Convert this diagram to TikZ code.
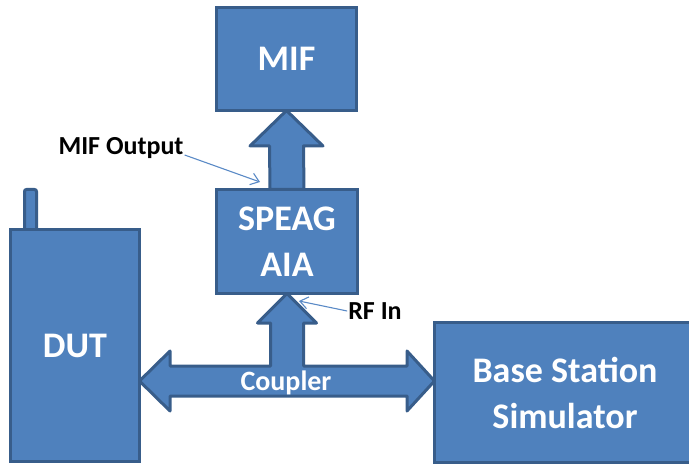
\documentclass[tikz,border=0pt]{standalone}
\usepackage{fontspec}
\setmainfont{Carlito}
\usetikzlibrary{calc,arrows.meta}
\definecolor{boxfill}{HTML}{4F81BD}
\definecolor{boxline}{HTML}{385D8A}
\definecolor{callout}{HTML}{5A8AC6}
\pgfdeclarelayer{bg}
\pgfsetlayers{bg,main}
\begin{document}
\begin{tikzpicture}[x=1pt,y=-1pt,
  blockbox/.style={draw=boxline,fill=boxfill,line width=3pt,outer sep=0pt,inner sep=0pt,
    rectangle,text=white,font=\fontsize{36}{46}\selectfont\bfseries,align=center},
  blockarrow/.style={draw=boxline,fill=boxfill,line width=3pt,line join=round},
  lbl/.style={text=black,font=\fontsize{26}{30}\selectfont\bfseries,inner sep=1pt},
  callarrow/.style={draw=callout,line width=1.1pt,-{Straight Barb[length=8pt,width=12pt]}}]
\clip (0,0) rectangle (689,468);
% antenna
\draw[blockarrow,rounded corners=2pt] (24.5,189.5) rectangle (36.5,236);
% boxes
\node[blockbox,minimum width=140pt,minimum height=103pt] (mif) at (286.5,59) {MIF};
\node[blockbox,minimum width=141pt,minimum height=104pt] (aia) at (287,241.5) {SPEAG\\AIA};
\node[blockbox,minimum width=129pt,minimum height=232pt] (dut) at (75,345.5) {DUT};
\node[blockbox,minimum width=261pt,minimum height=140pt] (bss) at (565,392.5) {Base Station\\Simulator};
\coordinate (cj) at (287,381);
\begin{pgfonlayer}{bg}
% upper block arrow AIA -> MIF
\draw[blockarrow] (mif.south) -- ($(mif.south)+(36.5,35.5)$) -- ($(mif.south)+(17,35.5)$)
  -- ($(aia.north)+(17,0)$) -- ($(aia.north)+(-17,0)$) -- ($(mif.south)+(-17,35.5)$)
  -- ($(mif.south)+(-36.5,35.5)$) -- cycle;
% coupler: double arrow with branch up to AIA
\begin{scope}[shift={(cj)}]
\draw[blockarrow] (dut.east |- cj) -- (-117,-30) -- (-117,-15) -- (-16.5,-15) -- (-16.5,-58)
  -- (-29.5,-58) -- (aia.south) -- (29.5,-58) -- (16.5,-58) -- (16.5,-15) -- (120,-15)
  -- (120,-30) -- (bss.west |- cj) -- (120,30) -- (120,15) -- (-117,15) -- (-117,30) -- cycle;
\end{scope}
\end{pgfonlayer}
\node[text=white,font=\fontsize{28}{32}\selectfont\bfseries,inner sep=0pt,anchor=base] (coupler) at (286,390) {Coupler};
% callouts
\node[lbl] (mifout) at (121,148) {MIF Output};
\coordinate (mifoutTip) at (260,182);
\draw[callarrow] ([yshift=-7pt]mifout.east) -- (mifoutTip);
\node[lbl] (rfin) at (375,311) {RF In};
\coordinate (rfinTip) at (299,301);
\draw[callarrow] (rfin.west) -- (rfinTip);
\end{tikzpicture}
\end{document}
